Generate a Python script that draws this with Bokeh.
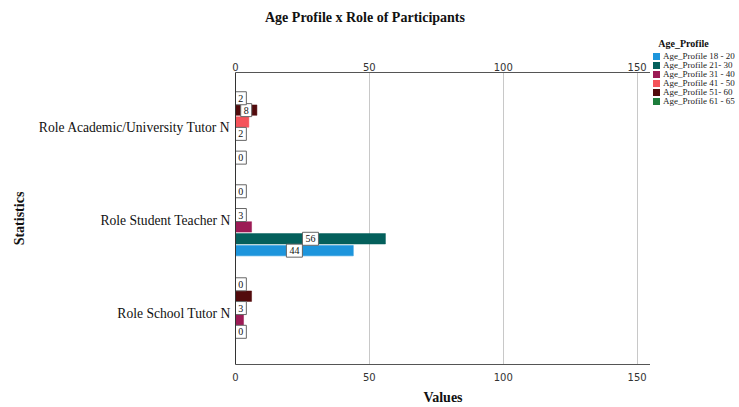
from bokeh.plotting import figure
from bokeh.layouts import row, column
from bokeh.models import Range1d, LinearAxis, FixedTicker, ColumnDataSource, Div
from bokeh.embed import file_html
from bokeh.resources import INLINE
from bokeh.core.properties import value

# Roles listed bottom to top on the category axis
roles = ["Role School Tutor N", "Role Student Teacher N", "Role Academic/University Tutor N"]

age_groups = ["Age_Profile 18 - 20", "Age_Profile 21- 30", "Age_Profile 31 - 40",
              "Age_Profile 41 - 50", "Age_Profile 51- 60", "Age_Profile 61 - 65"]
age_colors = ["#1d95dc", "#04605c", "#9c1b55", "#f5535a", "#520b0c", "#1d7d3b"]

# Counts per role, in the order of `roles`
age_18_20 = [0, 44, 0]
age_21_30 = [0, 56, 0]
age_31_40 = [3, 6, 2]
age_41_50 = [3, 3, 5]
age_51_60 = [6, 0, 8]
age_61_65 = [0, 0, 2]

# Value labels shown on the bars ("" = no label drawn)
lab_18_20 = ["", "44", "0"]
lab_21_30 = ["0", "56", ""]
lab_31_40 = ["", "", "2"]
lab_41_50 = ["3", "3", ""]
lab_51_60 = ["", "", "8"]
lab_61_65 = ["0", "0", "2"]

x_ticks = [0, 50, 100, 150]

series = [age_18_20, age_21_30, age_31_40, age_41_50, age_51_60, age_61_65]
series_labels = [lab_18_20, lab_21_30, lab_31_40, lab_41_50, lab_51_60, lab_61_65]

SERIF = "Liberation Serif"
SANS = "DejaVu Sans"
TITLE_H = 36

# Chart title strip
title_div = Div(
    text=('<div style="padding:9px 0 0 265px;font-family:\'Liberation Serif\';font-size:14px;'
          'font-weight:bold;line-height:17px;color:#111111;white-space:nowrap;">'
          'Age Profile x Role of Participants</div>'),
    width=739, height=TITLE_H, margin=0)

p = figure(width=650, height=407 - TITLE_H, output_backend="svg", toolbar_location=None,
           x_range=Range1d(0, 155), y_range=Range1d(-0.543, 2.596),
           min_border_left=235, min_border_right=0, min_border_top=72 - TITLE_H,
           min_border_bottom=41, x_axis_location="below")
p.outline_line_color = None
p.background_fill_color = "white"
p.title.visible = False

# Axes
bottom_axis = p.below[0]
bottom_axis.ticker = FixedTicker(ticks=x_ticks)
top_axis = LinearAxis(ticker=FixedTicker(ticks=x_ticks))
p.add_layout(top_axis, "above")
for ax in [bottom_axis, top_axis]:
    ax.major_tick_out = 0
    ax.major_tick_in = 0
    ax.minor_tick_out = 0
    ax.minor_tick_in = 0
    ax.axis_line_color = "#555555"
    ax.major_label_text_font = SANS
    ax.major_label_text_font_size = "10px"
    ax.major_label_text_color = "#333333"
bottom_axis.major_label_standoff = 8
top_axis.major_label_standoff = 2
bottom_axis.axis_label = "Values"
bottom_axis.axis_label_text_font = SERIF
bottom_axis.axis_label_text_font_size = "14px"
bottom_axis.axis_label_text_font_style = "bold"
bottom_axis.axis_label_text_color = "#111111"
bottom_axis.axis_label_standoff = 6

yax = p.left[0]
yax.ticker = FixedTicker(ticks=[0, 1, 2])
yax.major_label_overrides = {i: r for i, r in enumerate(roles)}
yax.major_tick_out = 0
yax.major_tick_in = 0
yax.minor_tick_out = 0
yax.minor_tick_in = 0
yax.axis_line_color = "#333333"
yax.major_label_text_font = SERIF
yax.major_label_text_font_size = "13.6px"
yax.major_label_text_color = "#111111"
yax.major_label_standoff = 5
yax.axis_label = "Statistics"
yax.axis_label_text_font = SERIF
yax.axis_label_text_font_size = "14px"
yax.axis_label_text_font_style = "bold"
yax.axis_label_text_color = "#111111"
yax.axis_label_standoff = 9

p.ygrid.grid_line_color = None
p.xgrid.ticker = FixedTicker(ticks=[50, 100, 150])
p.xgrid.grid_line_color = "#c8c8c8"

# Bars: each age group is dodged within its role band
slot = 0.1277
bar_h = 0.112
lab_x, lab_y, lab_t, lab_w = [], [], [], []
for i, (vals, labs, col) in enumerate(zip(series, series_labels, age_colors)):
    ys = [g + (i - 2.5) * slot for g in range(len(roles))]
    src = ColumnDataSource(dict(y=ys, right=vals))
    p.hbar(y="y", left=0, right="right", height=bar_h, source=src,
           fill_color=col, line_color=col, line_width=0.5)
    for yv, v, t in zip(ys, vals, labs):
        if t:
            lab_x.append(max(v / 2.0, 2.0))
            lab_y.append(yv)
            lab_t.append(t)
            lab_w.append(6 + 5 * len(t))

lab_src = ColumnDataSource(dict(x=lab_x, y=lab_y, t=lab_t, w=lab_w))
p.rect(x="x", y="y", width="w", height=13, width_units="screen", height_units="screen",
       source=lab_src, fill_color="white", line_color="#666666", line_width=1)
p.text(x="x", y="y", text="t", source=lab_src, text_align="center", text_baseline="middle",
       text_font=value(SERIF), text_font_size="10px", text_color="#111111")

# Key on the right: one swatch and name per age group
key_rows = "".join(
    '<div style="position:absolute;left:3px;top:{top}px;line-height:9px;font-size:9px;'
    'white-space:nowrap;color:#222222;">'
    '<span style="display:inline-block;width:7px;height:7px;background:{c};margin-right:3px;'
    'vertical-align:-1px;"></span>{n}</div>'.format(top=16 + 9 * i, c=c, n=n)
    for i, (n, c) in enumerate(zip(age_groups, age_colors))
)
key_div = Div(
    text=('<div style="position:relative;width:89px;height:{h}px;overflow:hidden;'
          'font-family:\'Liberation Serif\';">'
          '<div style="position:absolute;left:0;top:2px;width:67px;text-align:center;'
          'font-size:10px;font-weight:bold;line-height:12px;color:#111111;">Age_Profile</div>'
          '{rows}</div>').format(h=407 - TITLE_H, rows=key_rows),
    width=89, height=407 - TITLE_H, margin=0)

layout = column(title_div, row(p, key_div, spacing=0), spacing=0)
open("out.html", "w").write(file_html(layout, INLINE))
